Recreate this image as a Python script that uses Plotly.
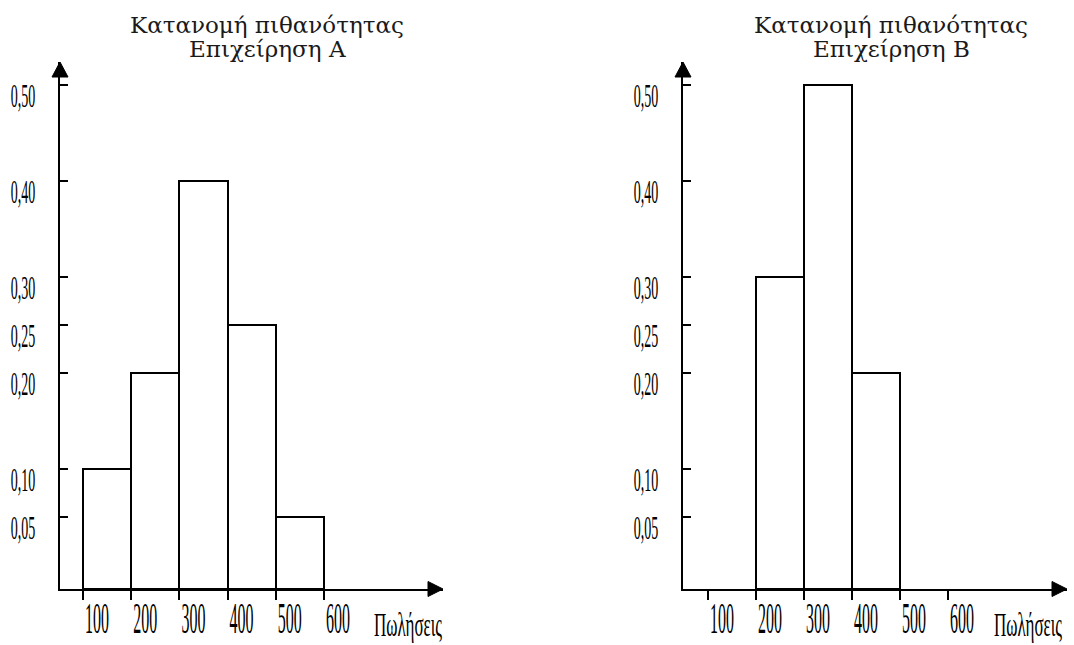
import plotly.graph_objects as go

W, H = 1074, 645

# ---------------- data ----------------
sales_ticks = [100, 200, 300, 400, 500, 600]
sales_tick_text = ["100", "200", "300", "400", "500", "600"]
bin_left_a = [100, 200, 300, 400, 500]
prob_a = [0.10, 0.20, 0.40, 0.25, 0.05]
bin_left_b = [200, 300, 400]
prob_b = [0.30, 0.50, 0.20]
bin_width = 100
y_tick_vals = [0.05, 0.10, 0.20, 0.25, 0.30, 0.40, 0.50]
y_tick_text = ["0,05", "0,10", "0,20", "0,25", "0,30", "0,40", "0,50"]
title_line1 = ["Κατανομή πιθανότητας", "Κατανομή πιθανότητας"]
title_line2 = ["Επιχείρηση Α", "Επιχείρηση Β"]
x_title = "Πωλήσεις"

# ---------------- layout constants ----------------
BASE = -0.025          # value at which the hand-drawn x axis sits
Y_TOP = 0.524
Y_PX_BOTTOM, Y_PX_TOP = 589, 62
panels = [
    dict(px0=60, px1=443, xr=[52.3, 846.9], title_cx=267, xt_px=372),
    dict(px0=683, px1=1067, xr=[47.9, 847.9], title_cx=891, xt_px=992),
]
SERIF_NARROW = "Liberation Serif, Times New Roman, serif"
TITLE_FONT = "DejaVu Serif, serif"

fig = go.Figure()
ydom = [(H - Y_PX_BOTTOM) / H, (H - Y_PX_TOP) / H]

for i, (lefts, probs) in enumerate([(bin_left_a, prob_a), (bin_left_b, prob_b)]):
    p = panels[i]
    xa = "x" if i == 0 else "x2"
    ya = "y" if i == 0 else "y2"
    fig.add_trace(go.Bar(
        x=lefts, y=[v - BASE for v in probs], base=BASE,
        width=bin_width, offset=0,
        marker=dict(color="white", line=dict(color="black", width=2)),
        xaxis=xa, yaxis=ya, showlegend=False, hoverinfo="skip",
    ))
    xkey = "xaxis" if i == 0 else "xaxis2"
    ykey = "yaxis" if i == 0 else "yaxis2"
    fig.layout[xkey] = dict(
        domain=[p["px0"] / W, p["px1"] / W], range=p["xr"], anchor=ya,
        tickmode="array", tickvals=sales_ticks, ticktext=sales_tick_text,
        ticks="outside", ticklen=9, tickwidth=2, tickcolor="black",
        showline=True, linewidth=2, linecolor="black",
        showgrid=False, zeroline=False, fixedrange=True,
        ticklabelposition="outside right", ticklabelstandoff=13,
        tickfont=dict(family=SERIF_NARROW, size=16, color="black"),
    )
    fig.layout[ykey] = dict(
        domain=ydom, range=[BASE, Y_TOP], anchor=xa,
        tickmode="array", tickvals=y_tick_vals, ticktext=y_tick_text,
        ticks="inside", ticklen=8, tickwidth=2, tickcolor="black",
        showline=True, linewidth=2, linecolor="black",
        showgrid=False, zeroline=False, fixedrange=True,
        ticklabelposition="outside bottom", ticklabelstandoff=20,
        tickfont=dict(family=SERIF_NARROW, size=14, color="black"),
    )
    # arrow heads
    fig.add_shape(type="path", xref="paper", yref="paper",
                  xsizemode="pixel", ysizemode="pixel",
                  xanchor=p["px0"] / W, yanchor=(H - Y_PX_TOP) / H,
                  path="M -8,-15 L 8,-15 L 0,0 Z",
                  fillcolor="black", line=dict(color="black", width=1))
    fig.add_shape(type="path", xref="paper", yref="paper",
                  xsizemode="pixel", ysizemode="pixel",
                  xanchor=p["px1"] / W, yanchor=(H - Y_PX_BOTTOM) / H,
                  path="M -15,7.5 L -15,-7.5 L 0,0 Z",
                  fillcolor="black", line=dict(color="black", width=1))
    # titles (two lines)
    for txt, cy in ((title_line1[i], 25), (title_line2[i], 49)):
        fig.add_annotation(text=txt, xref="paper", yref="paper",
                           x=p["title_cx"] / W, y=1 - cy / H,
                           xanchor="center", yanchor="middle",
                           showarrow=False,
                           font=dict(family=TITLE_FONT, size=23, color="#1a1a1a"))
    fig.add_annotation(text=x_title, xref="paper", yref="paper",
                       x=p["xt_px"] / W, y=(H - 625) / H, xanchor="left", yanchor="middle",
                       showarrow=False,
                       font=dict(family=SERIF_NARROW, size=17, color="black"))

fig.update_layout(
    width=W, height=H, autosize=False,
    margin=dict(l=0, r=0, t=0, b=0),
    paper_bgcolor="white", plot_bgcolor="white",
    bargap=0, barmode="overlay",
)

post_js = """
document.body.style.margin = '0';
document.body.style.padding = '0';
var gd = document.getElementById('{plot_id}');
function stretch(nodes, ky){
  nodes.forEach(function(t){
    var b = t.getBBox();
    var cx = b.x + b.width/2, cy = b.y + b.height/2;
    var tr = t.getAttribute('transform') || '';
    t.setAttribute('transform', tr + ' translate(' + cx + ',' + cy + ') scale(1,' + ky + ') translate(' + (-cx) + ',' + (-cy) + ')');
  });
}
stretch(Array.from(gd.querySelectorAll('.ytick text, .y2tick text')), 2.4);
stretch(Array.from(gd.querySelectorAll('.xtick text, .x2tick text')), 2.8);
stretch(Array.from(gd.querySelectorAll('.annotation-text')).filter(function(t){return t.textContent === 'Πωλήσεις';}), 1.95);
"""

fig.write_html("out.html", post_script=post_js, config={"displayModeBar": False})
